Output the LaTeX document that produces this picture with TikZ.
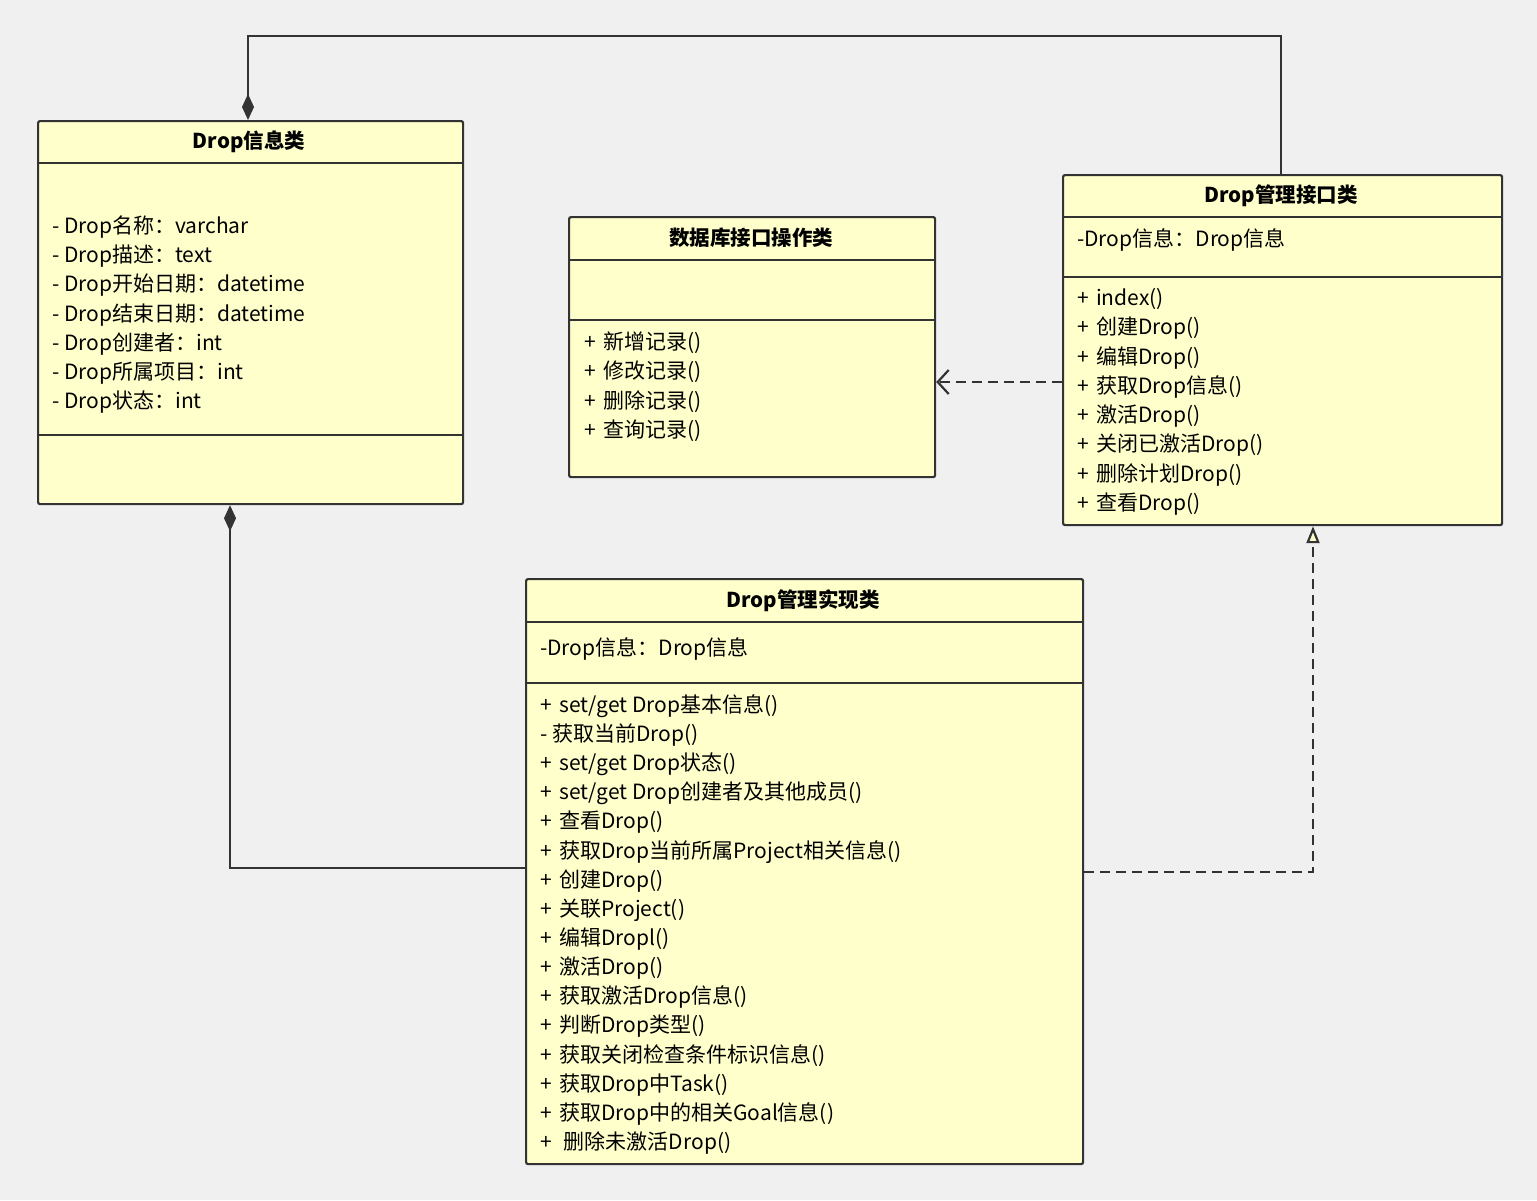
\documentclass[tikz,border=0pt]{standalone}
\usepackage{fontspec}
\setmainfont{Noto Sans CJK SC}
\usetikzlibrary{arrows.meta,positioning}
\definecolor{umlfill}{HTML}{FFFFCC}
\definecolor{umlline}{HTML}{333333}
\definecolor{bg}{HTML}{F0F0F0}
\tikzset{
  cls/.style={draw=umlline,line width=2.2pt,fill=umlfill,rounded corners=2pt,anchor=north west,inner sep=0pt},
  title/.style={font=\fontsize{20.5}{24}\selectfont\bfseries,text=black},
  item/.style={font=\fontsize{21}{24}\selectfont,anchor=west,inner sep=0pt,text=black},
  link/.style={draw=umlline,line width=2.2pt},
  comp/.style={link,{Diamond[length=26pt,width=12pt]}-},
  dep/.style={link,dashed,dash pattern=on 10pt off 6pt,-{Straight Barb[length=11pt,width=24pt]}},
  real/.style={link,dashed,dash pattern=on 10pt off 6pt,-{Triangle[open,length=17pt,width=13pt,fill=umlfill]}}
}
\newcommand{\pl}{+\hspace{0.35em}}
\begin{document}
\begin{tikzpicture}[x=1pt,y=-1pt]
  \fill[bg] (0,0) rectangle (1537,1200);
  \useasboundingbox (0,0) rectangle (1537,1200);

  % Drop信息类
  \node[cls,minimum width=425pt,minimum height=383pt] (info) at (37,120) {};
  \node[title] (infoT) at (249,142) {Drop信息类};
  \draw[link] (37,163) -- (462,163) (37,435) -- (462,435);
  \foreach \t [count=\i from 0] in {- Drop名称：varchar,- Drop描述：text,- Drop开始日期：datetime,- Drop结束日期：datetime,- Drop创建者：int,- Drop所属项目：int,- Drop状态：int}
    \node[item] (infoA\i) at (52,227+29.2*\i) {\t};

  % 数据库接口操作类
  \node[cls,minimum width=366pt,minimum height=260pt] (db) at (568,216) {};
  \node[title] (dbT) at (751,238) {数据库接口操作类};
  \draw[link] (568,260) -- (934,260) (568,320) -- (934,320);
  \foreach \t [count=\i from 0] in {新增记录(),修改记录(),删除记录(),查询记录()}
    \node[item] (dbM\i) at (584,343+29.2*\i) {\pl\t};

  % Drop管理接口类
  \node[cls,minimum width=439pt,minimum height=350pt] (api) at (1062,174) {};
  \node[title] (apiT) at (1281,196) {Drop管理接口类};
  \draw[link] (1062,217) -- (1501,217) (1062,277) -- (1501,277);
  \node[item] (apiA) at (1077,240) {-Drop信息：Drop信息};
  \foreach \t [count=\i from 0] in {index(),创建Drop(),编辑Drop(),获取Drop信息(),激活Drop(),关闭已激活Drop(),删除计划Drop(),查看Drop()}
    \node[item] (apiM\i) at (1077,299+29.3*\i) {\pl\t};

  % Drop管理实现类
  \node[cls,minimum width=557pt,minimum height=585pt] (impl) at (525,578) {};
  \node[title] (implT) at (803,601) {Drop管理实现类};
  \draw[link] (525,622) -- (1082,622) (525,683) -- (1082,683);
  \node[item] (implA) at (540,649) {-Drop信息：Drop信息};
  \foreach \t [count=\i from 0] in {\pl set/get Drop基本信息(),- 获取当前Drop(),\pl set/get Drop状态(),\pl set/get Drop创建者及其他成员(),\pl 查看Drop(),\pl 获取Drop当前所属Project相关信息(),\pl 创建Drop(),\pl 关联Project(),\pl 编辑Dropl(),\pl 激活Drop(),\pl 获取激活Drop信息(),\pl 判断Drop类型(),\pl 获取关闭检查条件标识信息(),\pl 获取Drop中Task(),\pl 获取Drop中的相关Goal信息(),\pl\ 删除未激活Drop()}
    \node[item] (implM\i) at (540,706+29.13*\i) {\t};

  % connectors
  \coordinate (c1) at (1281,36);
  \coordinate (c2) at (248,36);
  \coordinate (c3) at (230,868);
  \coordinate (c4) at (1313,872);
  \draw[comp] (info.north west -| c2) -- (c2) -- (c1) -- (api.north west -| c1);
  \draw[comp] (info.south west -| c3) -- (c3) -- (impl.west |- c3);
  \draw[dep] (api.west |- 0,382) -- (db.east |- 0,382);
  \draw[real] (impl.east |- c4) -- (c4) -- (api.south west -| c4);
\end{tikzpicture}
\end{document}
